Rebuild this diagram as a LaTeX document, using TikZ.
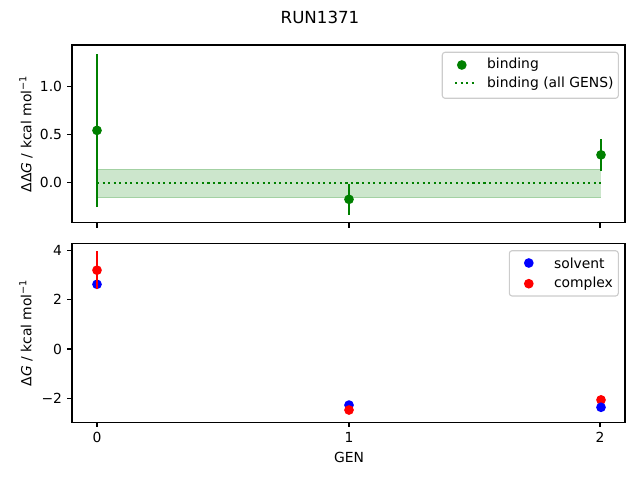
\documentclass[tikz,border=0pt]{standalone}
\usepackage{fontspec}
\setmainfont{DejaVu Sans}
\usetikzlibrary{positioning}
\definecolor{mplgreen}{HTML}{008000}
\definecolor{mplblue}{HTML}{0000FF}
\definecolor{mplred}{HTML}{FF0000}
\definecolor{framegrey}{HTML}{CCCCCC}
\tikzset{
  spine/.style={line width=0.8pt, line join=miter},
  tickmark/.style={line width=0.8pt},
  errbar/.style={line width=1.5pt},
  dot/.style={circle, inner sep=0pt, minimum size=7pt},
  ticklabel/.style={font=\fontsize{10}{12}\selectfont, inner sep=0pt},
  legendbox/.style={draw=framegrey, fill=white, fill opacity=0.8, line width=0.8pt, rounded corners=2pt},
}
\begin{document}
\begin{tikzpicture}[x=0.72pt, y=-0.72pt]
  \useasboundingbox (0,0) rectangle (640,480);
  % Title
  \node[font=\fontsize{12}{14}\selectfont] (title) at (320,17) {RUN1371};

  % Top panel: binding
  \begin{scope}[shift={(97,182.7)}, x=181.44pt, y=69.12pt]
    \fill[mplgreen, opacity=0.2] (0,-0.155) rectangle (2,0.14);
    \draw[mplgreen, opacity=0.2, line width=1pt] (0,-0.155) -- (2,-0.155) (0,0.14) -- (2,0.14);
    \draw[mplgreen, line width=1.5pt, dash pattern=on 1.5pt off 2.475pt] (0,-0.007) -- (2,-0.007);
    \foreach \gx/\gy/\ge [count=\i] in {0/0.545/0.80, 1/-0.173/0.16, 2/0.29/0.165} {
      \draw[errbar, mplgreen] (\gx,\gy-\ge) -- (\gx,\gy+\ge);
      \node[dot, fill=mplgreen] (bind\i) at (\gx,\gy) {};
    }
  \end{scope}
  \draw[spine] (72,45) rectangle (625,222.7);
  \foreach \ty/\tl in {86.7/1.0, 134.7/0.5, 182.7/0.0} {
    \draw[tickmark] (72,\ty) -- ++(-4.86,0);
    \node[ticklabel, anchor=east] at (62.3,\ty) {\tl};
  }
  \foreach \tx in {97,349,600}
    \draw[tickmark] (\tx,222.7) -- ++(0,4.86);
  \node[rotate=90, font=\fontsize{10}{12}\selectfont] (ylabtop) at (26,133.9)
    {ΔΔ\textit{G} / kcal mol\textsuperscript{−1}};

  % Top legend
  \draw[legendbox] (442.3,52.3) rectangle (618.3,98.3);
  \node[dot, fill=mplgreen] (legbind) at (461.8,65) {};
  \coordinate (legallA) at (455,83.3);
  \coordinate (legallB) at (476,83.3);
  \draw[mplgreen, line width=1.5pt, dash pattern=on 1.5pt off 2.475pt] (legallA) -- (legallB);
  \node[ticklabel, anchor=west] (txtbind) at (486.8,65) {binding};
  \node[ticklabel, anchor=west] (txtall) at (486.8,83.3) {binding (all GENS)};

  % Bottom panel: solvent and complex
  \begin{scope}[shift={(97,349)}, x=181.44pt, y=17.784pt]
    \draw[errbar, mplblue] (0,2.42) -- (0,2.82);
    \node[dot, fill=mplblue] (solv1) at (0,2.62) {};
    \draw[errbar, mplred] (0,2.44) -- (0,3.97);
    \node[dot, fill=mplred] (comp1) at (0,3.19) {};
    \node[dot, fill=mplblue] (solv2) at (1,-2.27) {};
    \node[dot, fill=mplred] (comp2) at (1,-2.47) {};
    \node[dot, fill=mplred] (comp3) at (2,-2.06) {};
    \node[dot, fill=mplblue] (solv3) at (2,-2.36) {};
  \end{scope}
  \draw[spine] (72,243.3) rectangle (625,422.3);
  \foreach \ty/\tl in {250.7/4, 299.8/2, 349/0, 398.3/−2} {
    \draw[tickmark] (72,\ty) -- ++(-4.86,0);
    \node[ticklabel, anchor=east] at (62.3,\ty) {\tl};
  }
  \foreach \tx/\tl in {97/0, 349/1, 600/2} {
    \draw[tickmark] (\tx,422.3) -- ++(0,4.86);
    \node[ticklabel, anchor=north] at (\tx,432) {\tl};
  }
  \node[rotate=90, font=\fontsize{10}{12}\selectfont] (ylabbot) at (26,332.8)
    {Δ\textit{G} / kcal mol\textsuperscript{−1}};
  \node[font=\fontsize{10}{12}\selectfont] (xlab) at (349,457) {GEN};

  % Bottom legend
  \draw[legendbox] (509.3,250.7) rectangle (618.3,296);
  \node[dot, fill=mplblue] (legsolv) at (528.8,263) {};
  \node[dot, fill=mplred] (legcomp) at (528.8,283.7) {};
  \node[ticklabel, anchor=west] (txtsolv) at (553.8,263) {solvent};
  \node[ticklabel, anchor=west] (txtcomp) at (553.8,283.7) {complex};
\end{tikzpicture}
\end{document}
